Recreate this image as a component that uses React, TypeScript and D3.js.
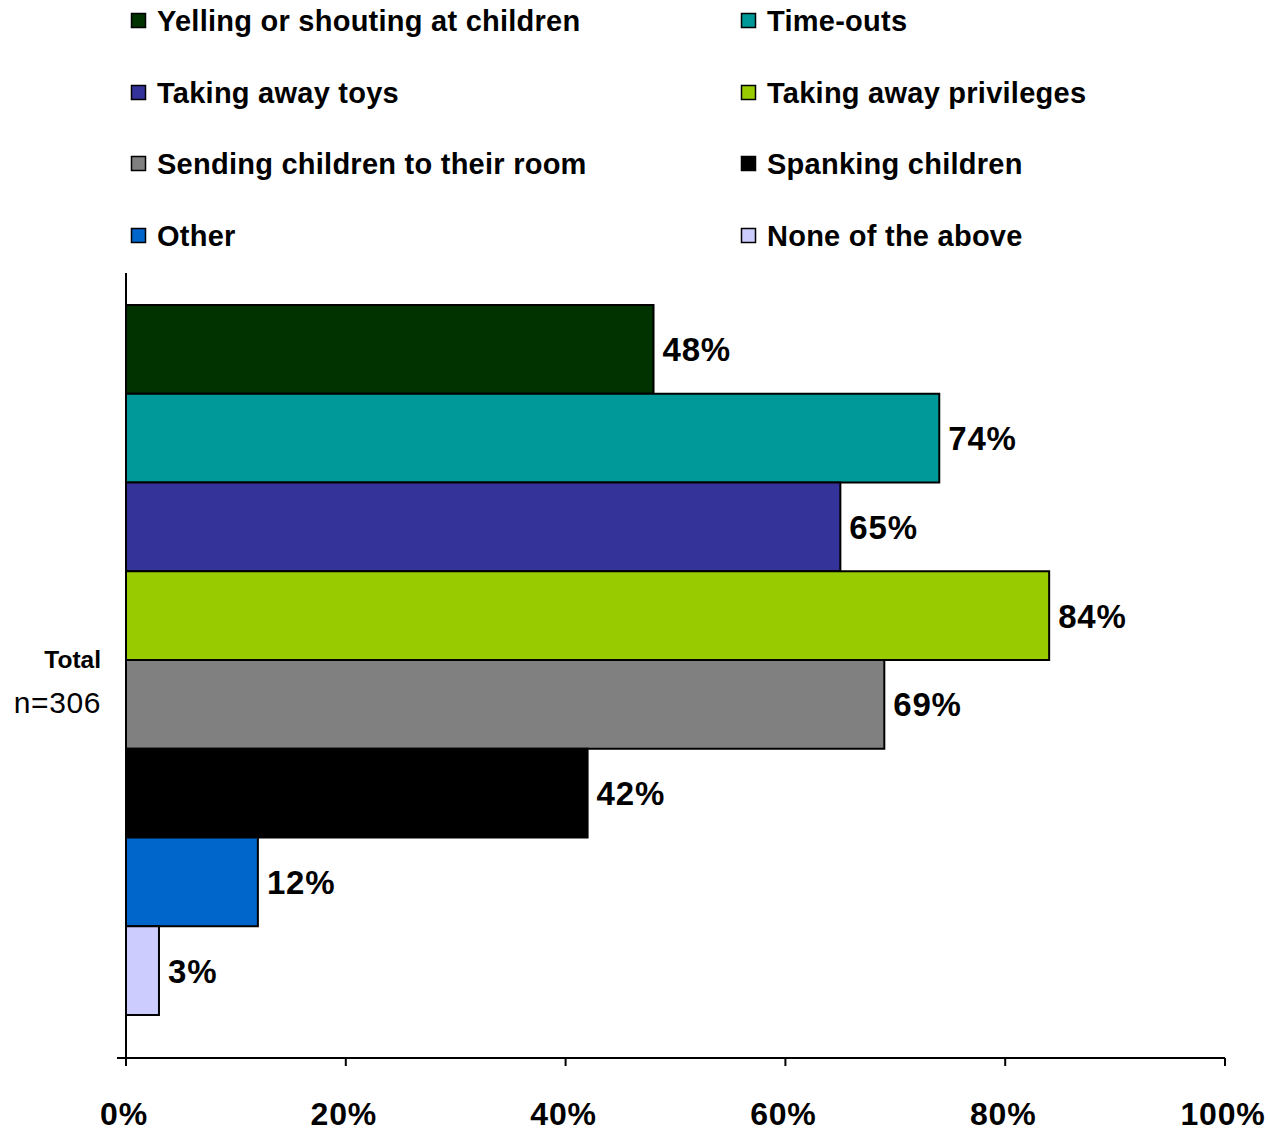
import React from "react";
import * as d3 from "d3";

const categories = [
  "Yelling or shouting at children",
  "Time-outs",
  "Taking away toys",
  "Taking away privileges",
  "Sending children to their room",
  "Spanking children",
  "Other",
  "None of the above",
];
const values = [48, 74, 65, 84, 69, 42, 12, 3];
const colors = ["#003300", "#009999", "#333399", "#99CC00", "#808080", "#000000", "#0066CC", "#CCCCFF"];
const ticks = [0, 20, 40, 60, 80, 100];

const FONT = "'Liberation Sans', Arial, sans-serif";

export default function App() {
  const W = 1270, H = 1132;
  const x = d3.scaleLinear().domain([0, 100]).range([126, 1225]);
  const y = d3.scaleBand<string>().domain(categories).range([305, 1015]).padding(0);
  const axisY = 1058;
  const legendCols = [131, 741];
  const legendRows = [21, 93, 164, 236];

  return (
    <svg width={W} height={H} style={{ position: "absolute", left: 0, top: 0, background: "#fff" }}>
      {/* legend */}
      {categories.map((c, i) => {
        const col = i % 2;
        const row = Math.floor(i / 2);
        const lx = legendCols[col];
        const ly = legendRows[row];
        return (
          <g key={c}>
            <rect x={lx + 0.5} y={ly - 7.5} width={14} height={14} fill={colors[i]} stroke="#000" strokeWidth={1.5} />
            <text
              x={lx + 26}
              y={ly}
              dy="0.34em"
              fontFamily={FONT}
              fontWeight="bold"
              fontSize={29}
              letterSpacing={0.25}
              fill="#000"
            >
              {c}
            </text>
          </g>
        );
      })}

      {/* bars */}
      {categories.map((c, i) => (
        <g key={c}>
          <rect
            x={x(0)}
            y={y(c)!}
            width={x(values[i]) - x(0)}
            height={y.bandwidth()}
            fill={colors[i]}
            stroke="#000"
            strokeWidth={2}
          />
          <text
            x={x(values[i]) + 9}
            y={y(c)! + y.bandwidth() / 2}
            dy="0.36em"
            fontFamily={FONT}
            fontWeight="bold"
            fontSize={33}
            letterSpacing={0.8}
            fill="#000"
          >
            {values[i]}%
          </text>
        </g>
      ))}

      {/* axes */}
      <line x1={x(0)} x2={x(0)} y1={273} y2={axisY + 8} stroke="#000" strokeWidth={2} />
      <line x1={117} x2={x(100)} y1={axisY} y2={axisY} stroke="#000" strokeWidth={2} />
      {ticks.map((t) => (
        <g key={t}>
          <line x1={x(t)} x2={x(t)} y1={axisY} y2={axisY + 8} stroke="#000" strokeWidth={2} />
          <text
            x={x(t) - 2}
            y={1125}
            textAnchor="middle"
            fontFamily={FONT}
            fontWeight="bold"
            fontSize={32}
            letterSpacing={0.8}
            fill="#000"
          >
            {t}%
          </text>
        </g>
      ))}

      {/* category label */}
      <text x={101} y={668} textAnchor="end" fontFamily={FONT} fontWeight="bold" fontSize={24.5} fill="#000">
        Total
      </text>
      <text x={101} y={713} textAnchor="end" fontFamily={FONT} fontSize={30} letterSpacing={0.6} fill="#000">
        n=306
      </text>
    </svg>
  );
}
